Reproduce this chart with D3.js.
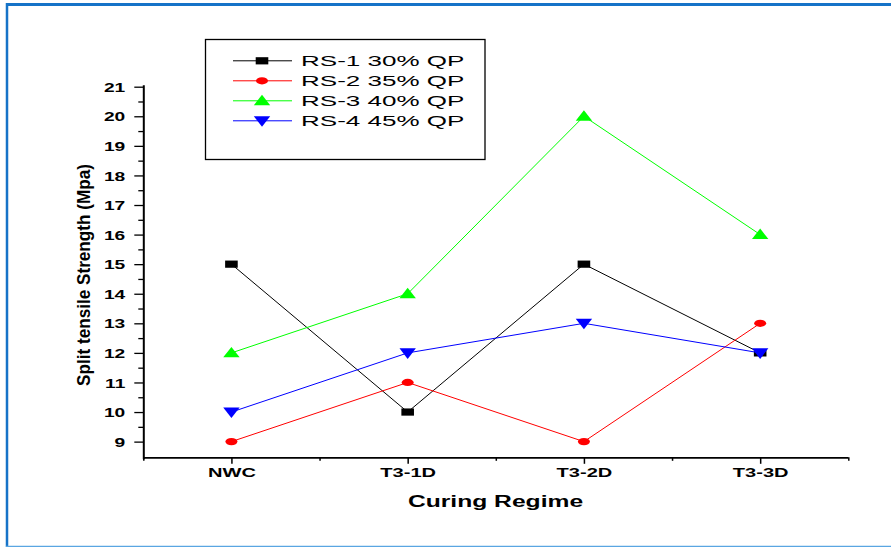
<!DOCTYPE html>
<html><head><meta charset="utf-8">
<script src="https://cdn.jsdelivr.net/npm/d3@7"></script>
<style>
html,body{margin:0;padding:0;background:#fff;}
svg{display:block;}
text{font-family:"Liberation Sans",Arial,Helvetica,sans-serif;}
</style></head>
<body>
<script>
// ---- data ----
const categories = ["NWC", "T3-1D", "T3-2D", "T3-3D"];
const seriesNames = ["RS-1 30% QP", "RS-2 35% QP", "RS-3 40% QP", "RS-4 45% QP"];
const rs1 = [15, 10, 15, 12];
const rs2 = [9, 11, 9, 13];
const rs3 = [12, 14, 20, 16];
const rs4 = [10, 12, 13, 12];
const yTicks = [9, 10, 11, 12, 13, 14, 15, 16, 17, 18, 19, 20, 21];
const yTitle = "Split tensile Strength (Mpa)";
const xTitle = "Curing Regime";

const seriesColors = ["#000000", "#ff0000", "#00ff00", "#0000ff"];
const seriesSymbols = ["square", "circle", "up", "down"];
const seriesValues = [rs1, rs2, rs3, rs4];

const W = 891, H = 547;
const svg = d3.select("body").append("svg").attr("width", W).attr("height", H);

// frame
svg.append("line").attr("x1", 6).attr("x2", W).attr("y1", 4.5).attr("y2", 4.5)
  .attr("stroke", "#1673c8").attr("stroke-width", 3);
svg.append("line").attr("x1", 7).attr("x2", 7).attr("y1", 3).attr("y2", H)
  .attr("stroke", "#1673c8").attr("stroke-width", 2.5);
svg.append("line").attr("x1", 6).attr("x2", W).attr("y1", 546.5).attr("y2", 546.5)
  .attr("stroke", "#5aa6e2").attr("stroke-width", 1.5);

// scales
const x = d3.scaleLinear().domain([-0.5, 3.5]).range([143.3, 848.3]);
const y = d3.scaleLinear().domain([8.47, 21]).range([457.3, 86.7]);
const xAxisY = 457.3, yAxisX = 143.3;

// y axis
const yMinor = yTicks.slice(0, -1).map(v => v + 0.5);
const gyMinor = svg.append("g").attr("transform", `translate(${yAxisX},0)`)
  .call(d3.axisLeft(y).tickValues(yMinor).tickSize(5).tickSizeOuter(0).tickFormat(""));
gyMinor.select(".domain").remove();
const gy = svg.append("g").attr("transform", `translate(${yAxisX},0)`)
  .call(d3.axisLeft(y).tickValues(yTicks).tickSize(9).tickSizeOuter(0).tickFormat(d3.format("d")));
gy.select(".domain").attr("d", `M0.5,${y(21) - 1.5}V${xAxisY + 2}`).attr("stroke", "#000").attr("stroke-width", 2);
gy.selectAll(".tick line").attr("stroke-width", 1.3);
gyMinor.selectAll(".tick line").attr("stroke-width", 1.3);
gy.selectAll(".tick text")
  .attr("x", 0).attr("dy", "0.36em")
  .attr("transform", "translate(-18,0) scale(1.5,1)")
  .attr("text-anchor", "end")
  .attr("font-size", 12.8).attr("font-weight", "bold").attr("fill", "#000");

// x axis
const xMinor = [-0.5, 0.5, 1.5, 2.5, 3.5];
const gxMinor = svg.append("g").attr("transform", `translate(0,${xAxisY})`)
  .call(d3.axisBottom(x).tickValues(xMinor).tickSize(3.5).tickSizeOuter(0).tickFormat(""));
gxMinor.select(".domain").remove();
gxMinor.selectAll(".tick line").attr("stroke-width", 1.5);
const gx = svg.append("g").attr("transform", `translate(0,${xAxisY})`)
  .call(d3.axisBottom(x).tickValues([0, 1, 2, 3]).tickSize(6.5).tickSizeOuter(0)
    .tickFormat(i => categories[i]));
gx.select(".domain").attr("d", `M${x(-0.5)},0.5H${x(3.5)}`).attr("stroke", "#000").attr("stroke-width", 1.8);
gx.selectAll(".tick line").attr("stroke-width", 1.5);
gx.selectAll(".tick text")
  .attr("y", 0).attr("dy", 0)
  .attr("transform", "translate(0,20) scale(1.57,1)")
  .attr("text-anchor", "middle")
  .attr("font-size", 12.8).attr("font-weight", "bold").attr("fill", "#000");

// titles
svg.append("text")
  .attr("transform", "translate(495.5,507.3) scale(1.45,1)")
  .attr("text-anchor", "middle").attr("font-size", 17).attr("font-weight", "bold")
  .attr("fill", "#000").text(xTitle);
svg.append("text")
  .attr("transform", "translate(89.5,275) rotate(-90)")
  .attr("text-anchor", "middle").attr("font-size", 18.5).attr("font-weight", "bold")
  .attr("textLength", 222).attr("lengthAdjust", "spacingAndGlyphs")
  .attr("fill", "#000").text(yTitle);

// symbol drawing (stretched horizontally like reference)
function drawSymbol(g, kind, cx, cy, color) {
  if (kind === "square") {
    g.append("rect").attr("x", cx - 6.3).attr("y", cy - 3.6).attr("width", 12.6).attr("height", 7.2).attr("fill", color);
  } else if (kind === "circle") {
    g.append("ellipse").attr("cx", cx).attr("cy", cy).attr("rx", 6).attr("ry", 3.6).attr("fill", color);
  } else if (kind === "up") {
    g.append("path").attr("d", `M${cx},${cy - 6}L${cx + 8.2},${cy + 4.4}L${cx - 8.2},${cy + 4.4}Z`).attr("fill", color);
  } else {
    g.append("path").attr("d", `M${cx},${cy + 6}L${cx + 8.2},${cy - 4.6}L${cx - 8.2},${cy - 4.6}Z`).attr("fill", color);
  }
}

// series
const line = d3.line().x((d, i) => x(i)).y(d => y(d));
seriesValues.forEach((vals, s) => {
  const g = svg.append("g");
  g.append("path").attr("d", line(vals)).attr("fill", "none")
    .attr("stroke", seriesColors[s]).attr("stroke-width", 1);
  vals.forEach((v, i) => drawSymbol(g, seriesSymbols[s], x(i), y(v), seriesColors[s]));
});

// legend
const lg = svg.append("g");
lg.append("rect").attr("x", 205.5).attr("y", 39.5).attr("width", 279.5).attr("height", 120)
  .attr("fill", "#fff").attr("stroke", "#000").attr("stroke-width", 1.3);
seriesNames.forEach((name, s) => {
  const cy = 60.8 + s * 20;
  lg.append("line").attr("x1", 233).attr("x2", 292).attr("y1", cy).attr("y2", cy)
    .attr("stroke", seriesColors[s]).attr("stroke-width", 1);
  drawSymbol(lg, seriesSymbols[s], 262, cy, seriesColors[s]);
  lg.append("text").attr("transform", `translate(301,${cy + 4.9}) scale(1.82,1)`)
    .attr("font-size", 14.3).attr("fill", "#000").text(name);
});
</script>
</body></html>
